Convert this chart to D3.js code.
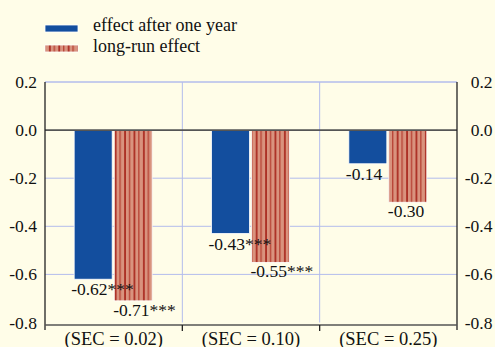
<!DOCTYPE html>
<html>
<head>
<meta charset="utf-8">
<script src="https://cdn.jsdelivr.net/npm/d3@7"></script>
<style>
  html, body { margin: 0; padding: 0; background: #fffde8; }
</style>
</head>
<body>
<svg id="chart" width="495" height="347"></svg>
<script>
// Effect estimates by SEC group
const categories = ["(SEC = 0.02)", "(SEC = 0.10)", "(SEC = 0.25)"];
const oneYear = [-0.62, -0.43, -0.14];
const longRun = [-0.71, -0.55, -0.30];
const oneYearLabels = ["-0.62***", "-0.43***", "-0.14"];
const longRunLabels = ["-0.71***", "-0.55***", "-0.30"];
const seriesNames = ["effect after one year", "long-run effect"];
const yTicks = [0.2, 0.0, -0.2, -0.4, -0.6, -0.8];

const W = 495, H = 347;
const margin = { left: 45, right: 38, top: 82, bottom: 24.5 };
const FONT = "'Liberation Serif', 'Times New Roman', Times, serif";
const svg = d3.select("#chart");

svg.append("rect").attr("width", W).attr("height", H).attr("fill", "#fffde8");

// vertical stripe fill for the long-run bars
const defs = svg.append("defs");
const pat = defs.append("pattern")
  .attr("id", "stripes").attr("patternUnits", "userSpaceOnUse")
  .attr("width", 9.4).attr("height", 10);
pat.append("rect").attr("width", 9.4).attr("height", 10).attr("fill", "#d9937e");
pat.append("rect").attr("x", 2).attr("width", 1.7).attr("height", 10).attr("fill", "#a9291f");
pat.append("rect").attr("x", 6.7).attr("width", 1.2).attr("height", 10).attr("fill", "#b43a2c");

const x = d3.scaleBand().domain(categories).range([margin.left, W - margin.right]);
const y = d3.scaleLinear().domain([-0.8, 0.2]).range([H - margin.bottom, margin.top]);

const grid = "#b3bcec";
const x0 = margin.left, x1 = W - margin.right;
const yTop = y(0.2), yBot = y(-0.8);

// horizontal grid
svg.append("g").selectAll("line").data(yTicks.filter(d => d !== 0 && d !== -0.8)).join("line")
  .attr("x1", x0).attr("x2", x1)
  .attr("y1", d => y(d)).attr("y2", d => y(d))
  .attr("stroke", grid).attr("stroke-width", 1);

// vertical grid at category boundaries
svg.append("g").selectAll("line").data(categories.slice(1)).join("line")
  .attr("x1", d => x(d)).attr("x2", d => x(d))
  .attr("y1", yTop).attr("y2", yBot)
  .attr("stroke", grid).attr("stroke-width", 1);

// bars
const bw = 38;
const g = svg.append("g");
g.selectAll("rect.one").data(categories).join("rect")
  .attr("class", "one")
  .attr("x", d => x(d) + x.bandwidth() / 2 - bw - 1.5)
  .attr("width", bw)
  .attr("y", (d, i) => y(Math.max(0, oneYear[i])))
  .attr("height", (d, i) => Math.abs(y(oneYear[i]) - y(0)))
  .attr("fill", "#134e9e").attr("stroke", "#ffffff").attr("stroke-width", 0.8);
g.selectAll("rect.long").data(categories).join("rect")
  .attr("class", "long")
  .attr("x", d => x(d) + x.bandwidth() / 2 + 0.5)
  .attr("width", bw)
  .attr("y", (d, i) => y(Math.max(0, longRun[i])))
  .attr("height", (d, i) => Math.abs(y(longRun[i]) - y(0)))
  .attr("fill", "url(#stripes)").attr("stroke", "#ffffff").attr("stroke-width", 0.8);

// zero line
svg.append("line").attr("x1", x0).attr("x2", x1)
  .attr("y1", y(0)).attr("y2", y(0))
  .attr("stroke", "#555555").attr("stroke-width", 1.6);

// top gridline
svg.append("line").attr("x1", x0).attr("x2", x1)
  .attr("y1", yTop).attr("y2", yTop)
  .attr("stroke", grid).attr("stroke-width", 1);

// left and right axes
const axisBot = yBot + 2.5;
svg.append("line").attr("x1", x0).attr("x2", x0).attr("y1", yTop).attr("y2", axisBot + 5)
  .attr("stroke", "#222").attr("stroke-width", 1.3);
svg.append("line").attr("x1", x1).attr("x2", x1).attr("y1", yTop).attr("y2", axisBot + 5)
  .attr("stroke", "#222").attr("stroke-width", 1.3);
// bottom axis with ticks at category boundaries
svg.append("line").attr("x1", x0).attr("x2", x1).attr("y1", axisBot).attr("y2", axisBot)
  .attr("stroke", "#555").attr("stroke-width", 1.3);
svg.append("g").selectAll("line").data(categories.slice(1)).join("line")
  .attr("x1", d => x(d)).attr("x2", d => x(d))
  .attr("y1", axisBot).attr("y2", axisBot + 6)
  .attr("stroke", "#222").attr("stroke-width", 1.3);

// y tick labels, both sides
const fmt = d3.format(".1f");
const tickFont = 17.5;
svg.append("g").selectAll("text").data(yTicks).join("text")
  .attr("x", x0 - 8).attr("y", d => y(d) + 6)
  .attr("text-anchor", "end").attr("font-size", tickFont).style("font-family", FONT).attr("fill", "#111")
  .text(d => fmt(d).replace("−", "-"));
svg.append("g").selectAll("text").data(yTicks).join("text")
  .attr("x", 492.5).attr("y", d => y(d) + 6)
  .attr("text-anchor", "end").attr("font-size", tickFont).style("font-family", FONT).attr("fill", "#111")
  .text(d => fmt(d).replace("−", "-"));

// category labels
svg.append("g").selectAll("text").data(categories).join("text")
  .attr("x", d => x(d) + x.bandwidth() / 2).attr("y", 344.5)
  .attr("text-anchor", "middle").attr("font-size", 18.5).style("font-family", FONT).attr("fill", "#111")
  .text(d => d);

// value labels under bars
svg.append("g").selectAll("text").data(categories).join("text")
  .attr("x", d => x(d) + x.bandwidth() / 2 - bw - 1.5 - 3)
  .attr("y", (d, i) => y(oneYear[i]) + 16)
  .attr("font-size", tickFont).style("font-family", FONT).attr("fill", "#111")
  .text((d, i) => oneYearLabels[i]);
svg.append("g").selectAll("text").data(categories).join("text")
  .attr("x", d => x(d) + x.bandwidth() / 2 + 0.5 - 1)
  .attr("y", (d, i) => y(longRun[i]) + 15)
  .attr("font-size", tickFont).style("font-family", FONT).attr("fill", "#111")
  .text((d, i) => longRunLabels[i]);

// legend
const leg = svg.append("g");
leg.append("rect").attr("x", 45).attr("y", 25).attr("width", 33).attr("height", 7)
  .attr("fill", "#134e9e").attr("stroke", "#ffffff").attr("stroke-width", 0.8);
leg.append("rect").attr("x", 45).attr("y", 45).attr("width", 33).attr("height", 7)
  .attr("fill", "url(#stripes)").attr("stroke", "#ffffff").attr("stroke-width", 0.8);
leg.selectAll("text").data(seriesNames).join("text")
  .attr("x", 93).attr("y", (d, i) => 31 + i * 21)
  .attr("font-size", 18).style("font-family", FONT).attr("fill", "#111")
  .text(d => d);
</script>
</body>
</html>
